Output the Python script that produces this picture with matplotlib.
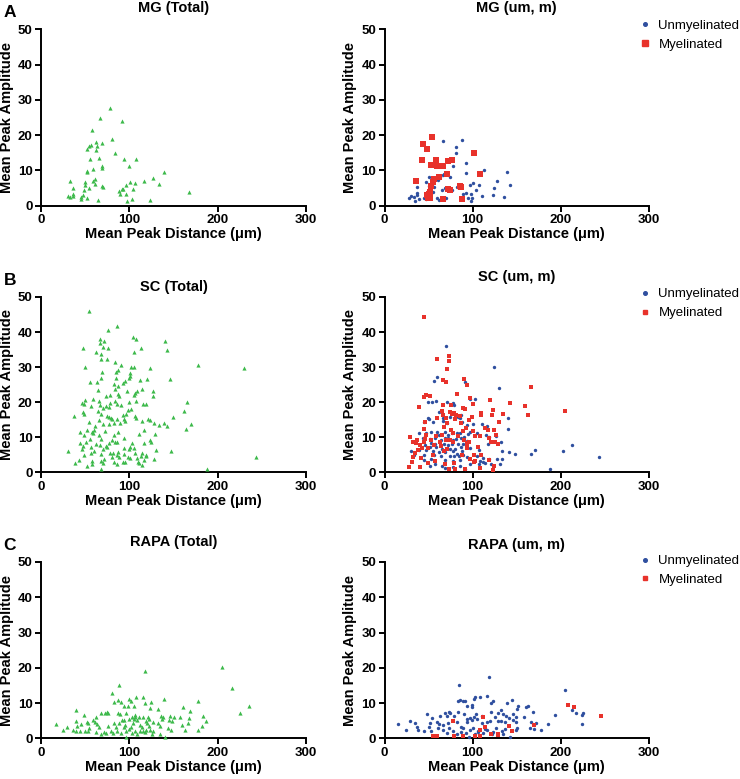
import matplotlib
matplotlib.use("Agg")
import matplotlib.pyplot as plt
from matplotlib.lines import Line2D
import numpy as np

plt.rcParams['font.family'] = ['Liberation Sans', 'DejaVu Sans']

# ---------------- DATA ----------------
# MG total (x: mean peak distance, y: mean peak amplitude)
mg_total_x = [78.1, 67.2, 91.3, 57.4, 80, 62.6, 56.6, 69, 54, 63, 51.7, 62.3, 84.2, 55, 66, 94.3, 108,
              100, 69.4, 69.4, 58.9, 52.5, 52.5, 138.9, 126.4, 33.2, 61.5, 58.9, 100.4, 106, 116.2, 49.8,
              61.5, 50.2, 96.6, 133.6, 69, 70.2, 54, 35.8, 48.7, 87.9, 92, 93.2, 103.8, 168, 89, 96.6,
              36.2, 36.2, 47.2, 30.2, 32.5, 44.9, 45.3, 52.5, 102.6, 64.9, 97.7, 123]
mg_total_y = [27.6, 24.9, 23.9, 21.5, 18.9, 18.1, 17.2, 17.7, 16.9, 16.9, 16.1, 15.7, 15.0, 13.1, 13.4, 13.3, 13.1,
              11.3, 11.2, 10.8, 10.3, 9.9, 9.5, 9.5, 7.9, 7.0, 7.5, 6.9, 6.8, 6.5, 6.9, 6.6,
              6.2, 5.8, 6.0, 6.1, 5.6, 5.3, 4.9, 5.1, 4.5, 4.3, 4.6, 4.7, 4.6, 3.8, 3.2, 3.2,
              3.2, 2.8, 3.0, 2.7, 2.4, 2.5, 1.8, 2.3, 1.9, 1.7, 1.2, 1.6]

mg_my_x = [53.6, 44.2, 48, 101.2, 42.3, 58.6, 77.1, 72.5, 52.9, 59.3, 64.2, 66.1, 108, 70.6, 62, 56.7, 35.5,
           55.5, 53.3, 85.8, 86.9, 72.2, 74.4, 52.1, 50.2, 48.4, 49.1, 51.8, 66.1, 88.4]
mg_my_y = [19.5, 17.5, 16.1, 14.8, 13.0, 12.9, 12.9, 12.8, 11.6, 11.2, 11.2, 11.3, 9.1, 8.9, 8.2, 7.5, 7.1,
           6.8, 5.7, 5.5, 5.2, 4.6, 4.4, 3.9, 3.4, 2.9, 2.2, 2.3, 1.8, 1.8]
mg_un_x = [88, 66.1, 80.8, 80.8, 92.2, 78.2, 113.3, 139.4, 92.2, 68, 69.1, 66.8, 63.1, 50.6, 74.8, 55.5, 56.3,
           60.4, 127.3, 46.8, 100.5, 54.4, 107.3, 142.4, 97.5, 50.2, 56.7, 36.3, 82, 69.1, 124.3, 104.2,
           76.3, 65.4, 49.9, 55.5, 50.2, 92.2, 36.3, 37.4, 89.2, 97.9, 110.7, 123.2, 30.6, 33.2, 136,
           27.6, 45, 48, 46.8, 39.3, 59.3, 69.5, 94.8, 99, 34.8, 98.2, 62]
mg_un_y = [18.6, 18.2, 16.6, 14.8, 12.2, 11.2, 10.2, 9.5, 9.3, 9.1, 8.9, 8.6, 8.2, 8.2, 8.2, 7.8, 7.3,
           7.3, 7.0, 6.6, 6.4, 6.2, 6.0, 6.0, 5.8, 5.7, 5.4, 5.2, 5.2, 5.0, 5.0, 4.4,
           4.4, 4.4, 4.3, 4.0, 3.8, 3.7, 3.5, 3.1, 3.2, 3.2, 2.8, 2.9, 2.8, 2.6, 2.6,
           2.2, 2.2, 2.6, 1.8, 1.9, 2.1, 2.2, 2.1, 2.2, 1.3, 1.3, 1.7]

# SC total
sc_total_x = [54.7, 86.4, 75.8, 104.5, 107.2, 66.4, 71.3, 140, 66.8, 47.9, 70.6, 112.8, 75.8, 143, 61.9, 67.5,
              104.9, 74.3, 67.5, 83.4, 178.1, 230.2, 49.8, 90.9, 101.5, 105.3, 123.8, 87.5, 85.3, 69.1,
              100.4, 100.8, 84.5, 145.7, 99.6, 67.9, 94.7, 93.2, 55.8, 63.4, 120, 112.5, 82.3, 87.2, 64.9,
              114.3, 127.2, 106.8, 108.7, 97.7, 83.8, 86.8, 126.8, 78.5, 73.6, 87.9, 105.7, 58.9, 50.2,
              46.4, 48.3, 65.7, 164.9, 107.9, 78.5, 83.4, 90.9, 86.4, 99.2, 115.5, 118.9, 56.6, 70.6, 66.4,
              77.0, 73.6, 98.9, 102.3, 64.2, 96.6, 67.9, 92.5, 106.8, 161.5, 149.8, 37, 47.9, 48.3, 76.6,
              74.3, 79.2, 80.8, 86, 93.6, 95.5, 121.5, 123.8, 54.3, 65.7, 107.9, 114.7, 127.9, 139.2, 169.4,
              143, 133.6, 61.5, 77.4, 82.3, 70.2, 89.8, 60, 51.7, 43.8, 57.4, 58.9, 72.8, 87.5, 116.6, 164.5,
              129.1, 83, 48.7, 65.7, 110.6, 94.3, 68.3, 55.1, 80.8, 84.2, 86.4, 77, 51.3, 43.8, 123.4, 124.5,
              116.6, 103.4, 62.3, 57, 67.2, 73.2, 74.7, 47.5, 46, 69.8, 94.3, 104.9, 100, 101, 30.2, 130.6,
              147.2, 56.6, 59.6, 78.1, 81.9, 86.8, 93.6, 106.8, 114.3, 48.7, 68.3, 86.4, 113.2, 119.2, 118.9,
              243, 80.8, 88.7, 98.9, 100.8, 109, 127.9, 71.3, 43.4, 57.7, 68.3, 116.2, 92.5, 94.7, 82.6,
              38.9, 58.1, 69.8, 111.3, 113.9, 52.1, 85.7, 68.3, 187.5, 109.8]
sc_total_y = [46.0, 41.7, 40.7, 38.7, 38.0, 37.9, 37.4, 37.6, 36.9, 35.6, 35.7, 35.6, 35.6, 35.0, 34.3, 33.7,
              34.2, 32.3, 32.4, 31.6, 30.6, 29.9, 30.0, 30.7, 30.0, 30.1, 29.9, 29.3, 28.7, 28.7,
              28.4, 27.6, 26.9, 26.7, 26.8, 26.9, 26.1, 25.6, 25.8, 25.9, 26.6, 26.3, 25.3, 24.6, 23.6,
              23.9, 23.1, 22.7, 23.2, 23.2, 23.8, 22.5, 21.8, 22.2, 21.8, 21.9, 22.0, 20.9, 20.6,
              19.9, 19.5, 20.3, 20.0, 20.4, 19.9, 20.5, 19.2, 19.5, 20.0, 19.6, 19.4, 18.9, 18.5, 19.3,
              18.7, 19.0, 17.9, 18.2, 17.6, 16.7, 16.6, 16.4, 16.2, 17.6, 15.9, 16.2, 17.3, 16.8, 15.8,
              16.0, 15.5, 15.1, 15.3, 15.2, 14.8, 15.1, 14.9, 14.4, 14.9, 15.4, 14.8, 14.1, 14.2, 13.8,
              13.2, 13.4, 13.3, 13.9, 14.0, 13.8, 14.1, 12.0, 12.2, 11.6, 11.6, 11.3, 11.9, 11.4, 12.0, 12.5,
              11.0, 10.8, 10.7, 10.7, 11.1, 9.9, 9.6, 9.5, 9.2, 8.7, 8.6, 8.5, 8.7, 8.4, 9.2, 8.6,
              8.3, 8.4, 8.2, 7.4, 7.8, 7.5, 7.3, 7.6, 6.6, 6.7, 7.0, 7.0, 6.6, 7.2, 6.0, 6.3,
              6.1, 5.6, 6.1, 5.5, 5.6, 5.8, 5.4, 5.6, 5.6, 5.1, 5.3, 4.9, 4.8, 4.6, 4.9,
              4.4, 4.5, 4.4, 4.5, 4.0, 4.2, 3.8, 3.9, 3.5, 3.3, 3.2, 3.5, 2.9, 2.9, 3.0,
              2.6, 2.5, 2.8, 2.8, 2.1, 1.8, 2.4, 1.0, 0.9, 2.9]

sc_my_x = [44.3, 59.1, 72.7, 72.7, 70.8, 65.9, 69.3, 90.2, 93.2, 166.3, 44.7, 47.3, 51.1, 82.6, 38.6, 97.3,
           120.1, 142.4, 159.5, 100.4, 75, 66.3, 88.6, 91.3, 122.7, 204.2, 74.2, 76.5, 109, 78.8, 163.3,
           134, 64.8, 65.9, 81.4, 86, 99.6, 109, 121.6, 59.5, 70.1, 79.5, 95.5, 129.9, 45.5, 70.8, 87.1,
           67, 92.8, 113.6, 124.6, 44.7, 75.8, 78.0, 88.6, 100.8, 117.4, 126.9, 28.4, 47, 58.3, 65.5,
           83.3, 102.7, 108.7, 118.6, 37.1, 46.2, 53, 69.7, 74.6, 90.5, 32.2, 35.2, 44.7, 62.9, 78, 95.8,
           121.2, 125.4, 93.6, 40.2, 56.1, 64, 93.6, 106.4, 128.4, 42.4, 49.6, 70.5, 94, 38.3, 67, 34.5,
           101.1, 109, 55.3, 88.3, 32.2, 41.3, 96.9, 102.7, 101.9, 118.2, 57.2, 31.1, 49.6, 68.6, 79.2,
           27.7, 40.5, 73.1, 79.5, 91.3, 108, 124.2, 123.1]
sc_my_y = [44.4, 32.3, 33.2, 31.7, 29.4, 26.3, 25.7, 26.6, 25.0, 24.3, 21.6, 22.2, 21.9, 22.5, 18.7, 21.1,
           20.6, 19.7, 19.0, 19.6, 19.3, 19.1, 18.4, 18.1, 17.9, 17.4, 17.1, 16.7, 16.9, 16.9, 16.4,
           16.7, 17.5, 16.3, 16.3, 16.0, 15.9, 16.4, 16.5, 15.6, 15.4, 15.1, 15.0, 14.5, 14.5, 14.1, 14.0,
           13.1, 12.8, 12.6, 12.2, 12.5, 12.2, 11.2, 11.7, 11.8, 12.0, 10.7, 10.2, 10.6, 10.3, 10.8,
           10.3, 10.3, 10.3, 9.7, 9.3, 9.6, 9.3, 9.3, 9.2, 9.2, 8.7, 8.5, 8.8, 8.7, 8.7, 8.7,
           8.7, 8.7, 8.3, 7.8, 7.9, 7.6, 7.4, 7.2, 8.1, 7.1, 7.0, 6.7, 7.0, 6.3, 6.1, 5.5,
           5.1, 5.0, 4.9, 4.9, 4.5, 4.2, 3.8, 3.2, 3.0, 3.5, 3.4, 2.9, 2.6, 2.5, 2.7,
           1.6, 1.5, 1.1, 1.0, 0.9, 1.4, 1.9, 0.7]
sc_un_x = [70.1, 123.9, 59.8, 55.7, 90.9, 129.9, 49.6, 53.4, 58.7, 70.8, 78, 79.2, 97, 103, 61.4, 66.3, 74.6,
           82.8, 86.4, 85.6, 140.2, 49.6, 50.8, 45.1, 54.5, 66.7, 70.8, 88.3, 93.2, 100.8, 110.2, 115.9,
           140.2, 39, 46.6, 52.7, 59.1, 62.1, 68.2, 72, 76.5, 82.6, 86, 94.3, 96.6, 104.5, 114.8, 118.6,
           126.1, 132.2, 43.2, 51.5, 57.6, 64.4, 68.6, 72.3, 77.3, 81.4, 87.1, 90.5, 93.9, 53, 57.2, 67.4,
           72.3, 76.5, 83.3, 89.4, 117.0, 45.5, 51.1, 58.7, 65.5, 73.9, 79.9, 87.1, 96.6, 29.9, 39, 47.3,
           54.9, 61.4, 68.2, 77.7, 87.5, 106.8, 133.7, 141.7, 147.7, 171.2, 166.3, 201.9, 212.1, 243.6,
           33.3, 44.3, 56.1, 63.6, 73.9, 79.2, 82.6, 84.8, 88.6, 93.2, 104.5, 111.7, 118.6, 128, 133.3,
           44.3, 52.3, 68.2, 77.7, 85.2, 108.3, 111.4, 114.4, 51.1, 57.2, 65.5, 85.6, 97.3, 107.6, 121.2,
           130.7, 68.6, 78, 187.5, 90.9]
sc_un_y = [36.0, 30.1, 27.2, 26.0, 25.9, 24.0, 20.1, 20.0, 20.3, 20.1, 19.8, 19.3, 20.9, 20.9, 17.1, 15.5, 15.7,
           15.8, 16.3, 15.6, 15.4, 15.5, 15.2, 14.3, 14.5, 14.6, 14.0, 14.3, 13.4, 13.8, 13.7, 13.3,
           12.3, 11.2, 11.2, 11.5, 11.4, 10.8, 11.5, 10.8, 11.2, 11.3, 11.2, 11.1, 11.5, 11.3, 10.6, 10.1,
           10.5, 8.8, 9.7, 9.6, 9.8, 9.4, 9.9, 9.7, 9.2, 9.6, 9.7, 10.1, 8.9, 8.4, 8.2, 8.1,
           7.8, 8.0, 8.2, 8.2, 8.2, 7.7, 7.3, 7.2, 6.7, 6.7, 6.8, 7.2, 7.1, 6.2, 6.3, 6.5,
           6.1, 5.8, 5.8, 6.1, 6.0, 6.4, 6.2, 5.7, 5.3, 6.5, 5.4, 6.0, 7.8, 4.5,
           5.1, 4.9, 4.9, 4.7, 4.6, 4.8, 5.2, 4.6, 5.0, 4.4, 4.8, 4.2, 3.8, 3.9, 3.9,
           3.6, 3.8, 3.5, 3.4, 3.6, 3.4, 2.9, 2.7, 1.8, 2.3, 1.9, 1.9, 2.5, 2.3, 2.4,
           2.5, 1.2, 1.5, 1.0, 1.1]

# RAPA total
rapa_total_x = [204.9, 117.4, 215.8, 88.3, 80.4, 107.9, 115.8, 139.6, 87.2, 90.6, 83, 178.1, 100, 101.9, 124.2,
                117.4, 235.5, 94.3, 98.1, 105.7, 160.8, 132.1, 40, 123.8, 168.7, 67.9, 72.8, 74.3, 75.8,
                87.5, 89, 96.2, 106.8, 106, 225.7, 48.3, 62.3, 102.6, 110.6, 115.1, 121.1, 136.2, 137.7,
                146.4, 150.6, 157.4, 183, 168, 39.2, 51.7, 61.5, 59.2, 91.3, 93.6, 100, 105.7, 108.3, 122.6,
                118.5, 126.4, 137.4, 144.9, 148.7, 186.8, 16.6, 45.7, 52.8, 63, 82.3, 88.7, 95.5, 104.2,
                112.1, 120.4, 132.8, 166.8, 159.6, 182.6, 29.4, 40.8, 54, 66, 75.5, 84.5, 94, 101.9, 114,
                122.6, 134.7, 144.2, 163.4, 178.1, 24.5, 36.6, 39.6, 44.2, 50.2, 53.2, 61.9, 70.9, 78.9, 86.4,
                95.8, 99.2, 106, 111.7, 115.1, 118.9, 123.8, 126.8, 147.2, 67.5, 73.2, 81.1, 90.2, 103.4, 109,
                118.1, 125.7, 135.1, 96.2, 140.4]
rapa_total_y = [20.3, 19.1, 14.2, 15.1, 12.8, 11.8, 11.8, 11.1, 10.8, 10.4, 10.2, 10.5, 11.1, 10.7, 10.4,
                10.1, 9.3, 9.3, 9.3, 9.3, 9.0, 8.3, 7.9, 8.6, 7.7, 7.2, 7.2, 7.4, 7.3,
                7.1, 6.9, 7.1, 6.6, 6.1, 7.1, 6.5, 6.0, 6.1, 6.1, 6.1, 6.0, 6.2, 6.0,
                6.3, 6.1, 6.0, 6.2, 5.8, 4.9, 4.5, 4.7, 5.2, 5.2, 5.1, 5.4, 5.4, 5.2, 5.4,
                5.0, 4.6, 5.4, 5.2, 4.8, 4.8, 4.0, 4.0, 4.2, 4.0, 4.2, 4.4, 3.8, 4.3,
                3.9, 4.3, 4.3, 4.3, 3.9, 3.6, 3.1, 3.5, 3.0, 3.1, 3.5, 3.1, 3.3, 3.2, 3.1,
                3.4, 3.5, 2.8, 2.4, 2.4, 2.3, 2.4, 2.2, 2.0, 2.0, 2.1, 1.8, 1.9, 2.0, 2.0,
                2.2, 2.6, 2.1, 2.0, 2.1, 2.3, 2.3, 2.1, 2.3, 1.2, 1.4, 1.5, 1.6, 1.5, 1.3,
                1.7, 1.2, 1.2, 0.5, 0.5]

rapa_my_x = [208.3, 215.5, 245.8, 112.1, 78, 140.9, 108, 170, 54.9, 59.1, 79.2, 89, 102.7, 108.7, 120.8,
             129.2, 128.4, 144.7, 113.6]
rapa_my_y = [9.4, 8.9, 6.2, 5.9, 4.9, 3.5, 2.4, 3.8, 0.7, 0.7, 0.7, 0.7, 0.7, 0.7, 1.1,
             0.8, 1.2, 2.0, 3.1]
rapa_un_x = [118.6, 84.8, 204.2, 116.7, 102.7, 108, 101.1, 83.7, 86, 89, 90.9, 122.7, 121.2, 144.7, 138.6,
             93.2, 98.9, 98.9, 151.9, 150.4, 160.6, 131.8, 212.9, 216.7, 163.3, 68.2, 73.5, 74.6, 83.3,
             90.5, 104.2, 110.2, 121.2, 128.4, 134.1, 145.5, 168.9, 145.8, 48.1, 53.4, 62.5, 70.8, 79,
             93.2, 96.6, 101.1, 105.3, 125, 138.3, 141.3, 149.6, 158.3, 193.2, 15.2, 29.2, 34.1, 51.1,
             59.1, 61.7, 66.3, 72, 82.6, 93.9, 99.2, 110.2, 115.9, 119.7, 128.4, 132.2, 136.4, 149.6,
             166.3, 171.6, 185.6, 223.5, 36.7, 50.4, 60.6, 73.5, 89.4, 100.4, 113.6, 126.9, 137.1, 150.8,
             164.8, 170.1, 177.3, 23.9, 37.9, 45.1, 52.3, 66.7, 77.7, 86.4, 97, 105.7, 116.3, 123.5, 133.7,
             149.6, 70.8, 81.8, 92.8, 103, 111.7, 121.6, 134.8, 142, 95.8, 106.4, 87.1, 223.5, 225.4]
rapa_un_y = [17.3, 15.2, 13.7, 11.9, 11.6, 11.7, 11.1, 10.5, 10.8, 10.7, 10.5, 10.5, 10.0, 10.9, 9.9,
             9.3, 9.5, 8.8, 9.1, 8.2, 9.0, 8.0, 8.0, 7.2, 9.2, 7.3, 7.4, 7.1, 7.4,
             6.9, 6.9, 6.3, 7.4, 7.3, 7.0, 7.0, 7.5, 5.2, 6.8, 5.8, 6.2, 6.2, 6.3,
             5.5, 5.7, 6.0, 5.6, 6.0, 6.3, 5.7, 5.9, 5.9, 6.7, 4.1, 5.0, 4.3, 4.2,
             4.7, 4.1, 3.8, 4.3, 4.6, 4.5, 5.2, 4.3, 4.6, 5.0, 4.9, 5.0, 4.7, 4.5,
             4.5, 4.3, 4.0, 4.0, 3.1, 3.3, 3.0, 2.9, 2.9, 3.0, 2.7, 2.9, 2.7, 3.0,
             3.0, 2.7, 2.4, 2.3, 2.4, 2.1, 2.0, 2.3, 2.1, 1.9, 2.3, 2.1, 2.4, 1.9, 2.1,
             2.3, 1.4, 1.2, 1.4, 1.2, 1.4, 1.3, 1.2, 0.5, 0.5, 1.8, 3.3, 6.6, 7.3]

titles_left = ["MG (Total)", "SC (Total)", "RAPA (Total)"]
titles_right = ["MG (um, m)", "SC (um, m)", "RAPA (um, m)"]
panel_letters = ["A", "B", "C"]
x_ticks = [0, 100, 200, 300]
y_ticks = [0, 10, 20, 30, 40, 50]
legend_labels = ["Unmyelinated", "Myelinated"]

GREEN = "#3cb94a"
BLUE = "#2f4f9f"
RED = "#e8322b"

W, H = 740, 779
fig = plt.figure(figsize=(W / 100, H / 100), dpi=100)

# axes pixel boxes: (left, right), (top, bottom)
cols = [(41, 306), (384.5, 649)]
rows = [(29.3, 205.7), (297, 472.5), (562, 738.3)]
title_offsets = [[21, 21], [10, 20], [20, 17]]
legend_tops = [1.055, 1.05, 1.04]

def make_ax(c, r):
    l, rr = cols[c]
    t, b = rows[r]
    return fig.add_axes([l / W, 1 - b / H, (rr - l) / W, (b - t) / H])

def style(ax, title, toff):
    ax.set_xlim(0, 300)
    ax.set_ylim(0, 50)
    ax.set_xticks(x_ticks)
    ax.set_yticks(y_ticks)
    for s in ["top", "right"]:
        ax.spines[s].set_visible(False)
    for s in ["left", "bottom"]:
        ax.spines[s].set_linewidth(1.4)
        ax.spines[s].set_color("black")
    ax.tick_params(direction="out", length=4, width=1.4, labelsize=9.5, pad=2)
    for lab in ax.get_xticklabels() + ax.get_yticklabels():
        lab.set_fontweight("bold")
    ax.set_ylabel("Mean Peak Amplitude", fontsize=10.5, fontweight="bold", labelpad=3)
    ax.set_xlabel("Mean Peak Distance (μm)", fontsize=10.5, fontweight="bold", labelpad=1)
    h = ax.get_position().height * H
    ax.text(0.5, 1 + toff / h, title, transform=ax.transAxes, ha="center", va="center",
            fontsize=10.5, fontweight="bold")

totals = [(mg_total_x, mg_total_y), (sc_total_x, sc_total_y), (rapa_total_x, rapa_total_y)]
splits = [(mg_un_x, mg_un_y, mg_my_x, mg_my_y),
          (sc_un_x, sc_un_y, sc_my_x, sc_my_y),
          (rapa_un_x, rapa_un_y, rapa_my_x, rapa_my_y)]
red_sizes = [20, 9, 9]

for r in range(3):
    axl = make_ax(0, r)
    tx, ty = totals[r]
    axl.scatter(tx, ty, marker="^", s=9, color=GREEN, linewidths=0, clip_on=False, zorder=3)
    style(axl, titles_left[r], title_offsets[r][0])

    axr = make_ax(1, r)
    ux, uy, mx, my = splits[r]
    axr.scatter(ux, uy, marker="o", s=6, color=BLUE, linewidths=0, clip_on=False, zorder=3)
    axr.scatter(mx, my, marker="s", s=red_sizes[r], color=RED, linewidths=0, clip_on=False, zorder=4)
    style(axr, titles_right[r], title_offsets[r][1])

    handles = [Line2D([], [], marker="o", linestyle="none", color=BLUE, markersize=2.6),
               Line2D([], [], marker="s", linestyle="none", color=RED,
                      markersize=4.2 if r == 0 else 3.0)]
    axr.legend(handles, legend_labels, loc="upper left",
               bbox_to_anchor=((640 - cols[1][0]) / (cols[1][1] - cols[1][0]), legend_tops[r]),
               frameon=False, fontsize=9.5, handlelength=0.8, handletextpad=0.6,
               labelspacing=0.5, borderaxespad=0, borderpad=0)

    t, b = rows[r]
    fig.text(10 / W, 1 - (t - 17) / H, panel_letters[r], fontsize=12.5, fontweight="bold",
             ha="center", va="center")

fig.savefig("out.png", dpi=100)
